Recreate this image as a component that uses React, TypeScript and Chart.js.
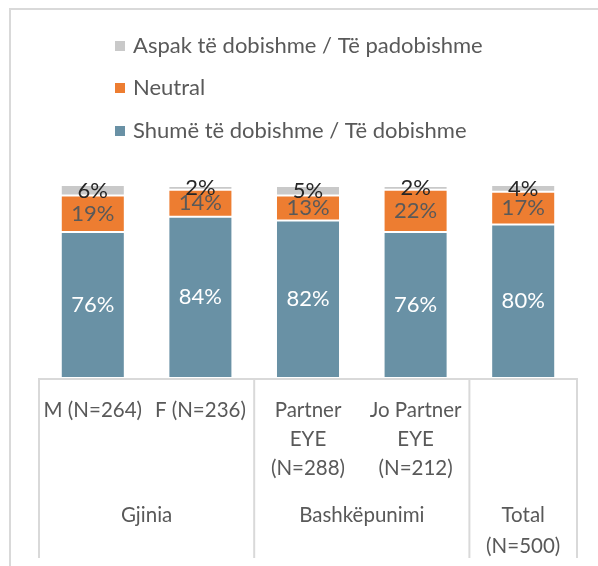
import React, { useEffect, useRef } from "react";
import { Chart, registerables } from "chart.js";

Chart.register(...registerables);

// ---- data ----
const categories: string[][] = [
  ["M (N=264)"],
  ["F (N=236)"],
  ["Partner", "EYE", "(N=288)"],
  ["Jo Partner", "EYE", "(N=212)"],
  [""],
];
const groupLabels: string[][] = [["Gjinia"], ["Bashkëpunimi"], ["Total", "(N=500)"]];
const groupStart = [0, 2, 4];
const groupEnd = [1, 3, 4];

const usefulValues = [76, 84, 82, 76, 80];
const neutralValues = [19, 14, 13, 22, 17];
const notUsefulValues = [6, 2, 5, 2, 4];

const seriesNames = [
  "Shumë të dobishme / Të dobishme",
  "Neutral",
  "Aspak të dobishme / Të padobishme",
];
const seriesColors = ["#6991A5", "#ED7D31", "#C9C9C9"];
const valueLabelColors = ["#FFFFFF", "#595959", "#262626"];

const FONT = "Lato, 'Open Sans', sans-serif";
const TEXT_GRAY = "#595959";
const LINE_GRAY = "#D9D9D9";

const frameAndAxisPlugin = {
  id: "frameAndAxis",
  afterDraw(chart: any) {
    const ctx = chart.ctx;
    const area = chart.chartArea;
    const xs = chart.scales.x;
    ctx.save();
    // outer frame (cropped)
    ctx.strokeStyle = LINE_GRAY;
    ctx.lineWidth = 2;
    ctx.beginPath();
    ctx.moveTo(10, chart.height);
    ctx.lineTo(10, 9);
    ctx.lineTo(chart.width, 9);
    ctx.stroke();

    // axis box lines
    const bottom = area.bottom + 180;
    ctx.lineWidth = 2;
    ctx.beginPath();
    ctx.moveTo(area.left, area.bottom + 1);
    ctx.lineTo(area.right, area.bottom + 1);
    const edges: number[] = [area.left, area.right];
    for (let g = 0; g < groupEnd.length - 1; g++) {
      const a = xs.getPixelForValue(groupEnd[g]);
      const b = xs.getPixelForValue(groupEnd[g] + 1);
      edges.push((a + b) / 2);
    }
    edges.forEach((x) => {
      ctx.moveTo(x, area.bottom);
      ctx.lineTo(x, bottom);
    });
    ctx.stroke();

    // group labels
    ctx.fillStyle = TEXT_GRAY;
    ctx.font = `20.5px ${FONT}`;
    ctx.textAlign = "center";
    ctx.textBaseline = "middle";
    for (let g = 0; g < groupLabels.length; g++) {
      const half = (xs.getPixelForValue(1) - xs.getPixelForValue(0)) / 2;
      const l = xs.getPixelForValue(groupStart[g]) - half;
      const r = xs.getPixelForValue(groupEnd[g]) + half;
      groupLabels[g].forEach((line, k) => {
        ctx.fillText(line, (l + r) / 2, area.bottom + 137 + k * 31);
      });
    }

    // legend (reversed order, vertical)
    ctx.font = `22px ${FONT}`;
    const legendX = 115;
    const rowsY = [46, 88, 131];
    for (let k = 0; k < 3; k++) {
      const si = 2 - k;
      ctx.fillStyle = seriesColors[si];
      ctx.fillRect(legendX, rowsY[k] - 5, 10, 10);
      ctx.fillStyle = TEXT_GRAY;
      ctx.textAlign = "left";
      ctx.fillText(seriesNames[si], legendX + 18, rowsY[k]);
    }
    ctx.restore();
  },
};

const valueLabelPlugin = {
  id: "valueLabels",
  afterDatasetsDraw(chart: any) {
    const ctx = chart.ctx;
    const area = chart.chartArea;
    ctx.save();
    ctx.font = `22px ${FONT}`;
    ctx.textAlign = "center";
    ctx.textBaseline = "middle";
    chart.data.datasets.forEach((ds: any, di: number) => {
      const meta = chart.getDatasetMeta(di);
      meta.data.forEach((el: any, i: number) => {
        const p = el.getProps(["x", "y", "base"], true);
        const top = Math.max(Math.min(p.y, p.base), area.top);
        const bot = Math.min(Math.max(p.y, p.base), area.bottom);
        ctx.fillStyle = valueLabelColors[di];
        ctx.fillText(ds.data[i] + "%", p.x, (top + bot) / 2);
      });
    });
    ctx.restore();
  },
};

export default function App() {
  const ref = useRef<HTMLCanvasElement | null>(null);
  useEffect(() => {
    if (!ref.current) return;
    const seriesValues = [usefulValues, neutralValues, notUsefulValues];
    const chart = new Chart(ref.current, {
      type: "bar",
      data: {
        labels: categories,
        datasets: seriesValues.map((vals, i) => ({
          label: seriesNames[i],
          data: vals,
          backgroundColor: seriesColors[i],
          borderColor: "#FFFFFF",
          borderWidth: 1,
          borderSkipped: false,
          barPercentage: 0.595,
          categoryPercentage: 1,
        })),
      },
      options: {
        responsive: false,
        animation: false,
        layout: { padding: { top: 186, left: 39, right: 21, bottom: 0 } },
        plugins: {
          legend: { display: false },
          tooltip: { enabled: false },
        },
        scales: {
          x: {
            stacked: true,
            grid: { display: false, drawTicks: false },
            border: { display: false },
            ticks: {
              color: TEXT_GRAY,
              font: { family: FONT, size: 20.5, lineHeight: 1.42 },
              padding: 18,
              maxRotation: 0,
              minRotation: 0,
              autoSkip: false,
            },
            afterFit(scale: any) {
              scale.height = 188;
            },
          },
          y: {
            stacked: true,
            display: false,
            min: 0,
            max: 100,
          },
        },
      },
      plugins: [valueLabelPlugin, frameAndAxisPlugin],
    } as any);
    return () => chart.destroy();
  }, []);
  return (
    <div style={{ position: "absolute", left: 0, top: 0, width: 598, height: 566, background: "#fff" }}>
      <canvas ref={ref} width={598} height={566} />
    </div>
  );
}
